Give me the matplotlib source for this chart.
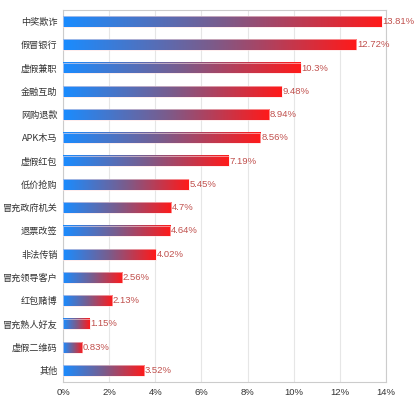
import matplotlib
matplotlib.use("Agg")
import numpy as np
import matplotlib.pyplot as plt
from matplotlib.colors import LinearSegmentedColormap

plt.rcParams['font.family'] = ['Liberation Sans', 'Noto Sans CJK SC', 'DejaVu Sans']

categories = ['中奖欺诈', '假冒银行', '虚假兼职', '金融互助', '网购退款', 'APK木马',
              '虚假红包', '低价抢购', '冒充政府机关', '退票改签', '非法传销',
              '冒充领导客户', '红包赌博', '冒充熟人好友', '虚假二维码', '其他']
values = [13.81, 12.72, 10.3, 9.48, 8.94, 8.56, 7.19, 5.45, 4.7, 4.64, 4.02,
          2.56, 2.13, 1.15, 0.83, 3.52]
labels = ['13.81%', '12.72%', '10.3%', '9.48%', '8.94%', '8.56%', '7.19%', '5.45%',
          '4.7%', '4.64%', '4.02%', '2.56%', '2.13%', '1.15%', '0.83%', '3.52%']
xticks = [0, 2, 4, 6, 8, 10, 12, 14]

cmap = LinearSegmentedColormap.from_list('br', ['#1a8cff', '#7a5c8c', '#ff1a1a'])
grad = np.linspace(0, 1, 256).reshape(1, -1)

fig = plt.figure(figsize=(4.15, 3.98), dpi=100)
ax = fig.add_axes([0.152, 0.040, 0.778, 0.935])

n = len(categories)
h = 0.46
for i, (v, lab) in enumerate(zip(values, labels)):
    y = n - 1 - i
    ax.imshow(grad, extent=(0, v, y - h / 2, y + h / 2), aspect='auto',
              cmap=cmap, interpolation='bilinear', zorder=3)
    ax.add_patch(plt.Rectangle((0, y - h / 2), v, h, fill=False,
                               edgecolor='#ffe0e0', linewidth=0.4, zorder=4))
    ax.text(v + 0.03, y, lab, va='center', ha='left', fontsize=6.8,
            color='#c0504d', zorder=5)

ax.set_xlim(0, 14)
ax.set_ylim(-0.5, n - 0.5)
ax.set_yticks(range(n))
ax.set_yticklabels(categories[::-1], family=['Noto Sans CJK SC', 'DejaVu Sans'],
                   fontsize=6.6)
ax.set_xticks(xticks)
ax.set_xticklabels([f'{t}%' for t in xticks], fontsize=6.8)
ax.tick_params(length=0, labelcolor='#333333', pad=4)
ax.grid(axis='x', color='#e6e6e6', linewidth=0.8, zorder=0)
ax.set_axisbelow(True)
for s in ax.spines.values():
    s.set_color('#cccccc')
    s.set_linewidth(0.8)

fig.savefig('out.png', dpi=100)
